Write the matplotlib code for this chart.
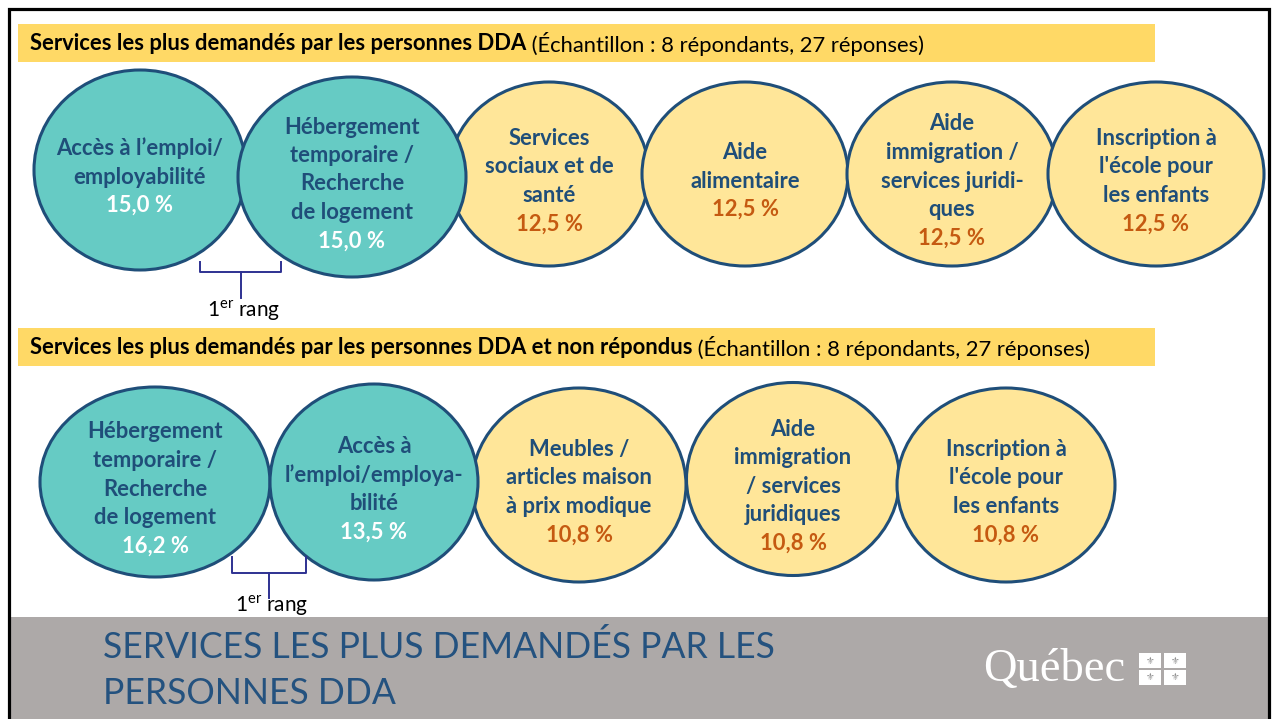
import matplotlib
matplotlib.use("Agg")
import matplotlib.pyplot as plt
from matplotlib.patches import Ellipse, Rectangle

plt.rcParams['font.family'] = ['Lato', 'DejaVu Sans']
plt.rcParams['mathtext.fontset'] = 'custom'
plt.rcParams['mathtext.rm'] = 'Lato'

# data
top_title = "Services les plus demandés par les personnes DDA"
bottom_title = "Services les plus demandés par les personnes DDA et non répondus"
sample_note = " (Échantillon : 8 répondants, 27 réponses)"

top_labels = ["Accès à l\u2019emploi/\nemployabilité",
              "Hébergement\ntemporaire /\nRecherche\nde logement",
              "Services\nsociaux et de\nsanté",
              "Aide\nalimentaire",
              "Aide\nimmigration /\nservices juridi-\nques",
              "Inscription à\nl'école pour\nles enfants"]
top_values = [15.0, 15.0, 12.5, 12.5, 12.5, 12.5]

bottom_labels = ["Hébergement\ntemporaire /\nRecherche\nde logement",
                 "Accès à\nl\u2019emploi/employa-\nbilité",
                 "Meubles /\narticles maison\nà prix modique",
                 "Aide\nimmigration\n/ services\njuridiques",
                 "Inscription à\nl'école pour\nles enfants"]
bottom_values = [16.2, 13.5, 10.8, 10.8, 10.8]

footer_lines = ["SERVICES LES PLUS DEMANDÉS PAR LES", "PERSONNES DDA"]

# layout (pixel coordinates of the slide)
top_circles = [(140, 170, 212, 200), (352, 177, 228, 200), (549, 174, 200, 184),
               (745, 174, 206, 184), (952, 174, 210, 184), (1156, 174, 216, 184)]
bottom_circles = [(155, 482, 230, 190), (374, 482, 208, 196), (579, 485, 214, 194),
                  (793, 479, 213, 193), (1006, 485, 218, 194)]

teal = '#66CBC4'
yellow = '#FFE699'
edge = '#1F4E79'
text_blue = '#1F4E79'
orange = '#C55A11'
bracket_col = '#2E3192'

fig = plt.figure(figsize=(12.77, 7.19), dpi=100)
ax = fig.add_axes([0, 0, 1, 1])
ax.set_xlim(0, 1277)
ax.set_ylim(719, 0)
ax.axis('off')

# footer and border
ax.add_patch(Rectangle((9, 617), 1259, 110, facecolor='#ADA9A8', edgecolor='none', zorder=1))
ax.plot([8.5, 8.5, 1268.5, 1268.5], [719, 8.5, 8.5, 719], color='black', lw=2.3, zorder=10,
        solid_joinstyle='miter')

# header bars
for y0, title in [(24, top_title), (328, bottom_title)]:
    ax.add_patch(Rectangle((18, y0), 1137, 38, facecolor='#FFD966', edgecolor='none', zorder=1))
    t = ax.text(30, y0 + 20, title, fontsize=15.8, fontweight='bold', color='black',
                va='center', ha='left', zorder=3)
    ax.annotate(sample_note, xycoords=t, xy=(1, 0.5), va='center', ha='left',
                fontsize=15.8, color='black', zorder=3)


def draw_row(circles, labels, values, n_high):
    for i, ((cx, cy, w, h), lab, val) in enumerate(zip(circles, labels, values)):
        face = teal if i < n_high else yellow
        ax.add_patch(Ellipse((cx, cy), w, h, facecolor=face, edgecolor=edge, lw=2.2,
                             zorder=2 + (i < n_high)))
        lines = lab.split('\n')
        n = len(lines) + 1
        step = 28.5
        y_first = cy + 7 - (n - 1) / 2 * step
        for j, line in enumerate(lines):
            ax.text(cx, y_first + j * step, line, fontsize=15.8, fontweight='bold',
                    color=text_blue, ha='center', va='center', zorder=5)
        pct = f"{val:.1f} %".replace('.', ',')
        ax.text(cx, y_first + len(lines) * step, pct, fontsize=15.8, fontweight='bold',
                color='white' if i < n_high else orange, ha='center', va='center', zorder=5)


draw_row(top_circles, top_labels, top_values, 2)
draw_row(bottom_circles, bottom_labels, bottom_values, 2)


def bracket(x0, x1, y0, y1, y2, ytext):
    xm = (x0 + x1) / 2
    ax.plot([x0, x0, x1, x1], [y0, y1, y1, y0], color=bracket_col, lw=1.4, zorder=6)
    ax.plot([xm, xm], [y1, y2], color=bracket_col, lw=1.4, zorder=6)
    ax.text(xm + 3, ytext, "1$^{\\mathrm{er}}$ rang", fontsize=15, color='black',
            ha='center', va='center', zorder=6)


bracket(200, 281, 262, 272, 298, 311)
bracket(232, 306, 557, 573, 598, 606)

# footer title
for k, line in enumerate(footer_lines):
    ax.text(103, 647 + 47 * k, line, fontsize=25.6, color='#24527F', ha='left', va='center',
            zorder=4)

# Québec logo
ax.text(983, 670, "Québec", fontsize=33.5, color='white', family='Liberation Serif',
        ha='left', va='center', zorder=4)
for fx in [1139, 1164]:
    for fy in [653, 670]:
        ax.add_patch(Rectangle((fx, fy), 22, 15, facecolor='white', edgecolor='none', zorder=4))
        ax.text(fx + 11, fy + 7.5, "\u269C", fontsize=7, color='#8F8F8F', family='DejaVu Sans',
                ha='center', va='center', zorder=5)

fig.savefig('out.png', dpi=100)
